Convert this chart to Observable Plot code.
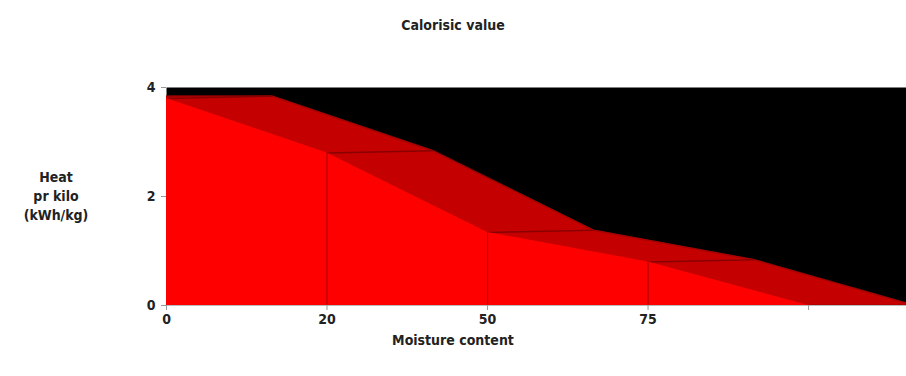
<!DOCTYPE html>
<html>
<head>
<meta charset="utf-8">
<script src="https://cdn.jsdelivr.net/npm/d3@7"></script>
<script src="https://cdn.jsdelivr.net/npm/@observablehq/plot@0.6"></script>
<style>
  html, body { margin: 0; padding: 0; background: #fff; }
  #wrap { position: relative; width: 906px; height: 376px; overflow: hidden;
          font-family: "Liberation Sans Narrow", "DejaVu Sans Condensed", "Liberation Sans", sans-serif; font-weight: bold; color: #222; }
  #wrap svg { position: absolute; left: 0; top: 0; }
  .lbl { position: absolute; text-align: center; }
  #title { left: 0; width: 906px; top: 17px; font-size: 14px; }
  #ylab { left: 10px; width: 92px; top: 168px; font-size: 14px; line-height: 19px; }
  #xlab { left: 0; width: 906px; top: 332px; font-size: 14px; }
</style>
</head>
<body>
<div id="wrap">
  <div class="lbl" id="title">Calorisic value</div>
  <div class="lbl" id="ylab">Heat<br>pr kilo<br>(kWh/kg)</div>
  <div class="lbl" id="xlab">Moisture content</div>
</div>
<script>
const categories = ["0", "20", "50", "75", ""];
const heat = [3.8, 2.8, 1.34, 0.8, 0];
const yTicks = [0, 2, 4];
const depthX = 0.66;   // 3D depth offset in category units
const depthY = 0.04;   // 3D depth offset in value units

const front = categories.map((c, i) => ({i, v: heat[i]}));
const back = [{i: 0, v: heat[0] + depthY}].concat(
  categories.map((c, i) => ({i: i + depthX, v: heat[i] + (heat[i] > 0 ? depthY : 0)}))
);
const edges = categories.map((c, i) => ({x1: i, x2: i + depthX, y1: heat[i], y2: heat[i] + (heat[i] > 0 ? depthY : 0)}));
const inner = front.slice(1, -1);

const chart = Plot.plot({
  width: 906,
  height: 376,
  marginTop: 87,
  marginBottom: 71,
  marginLeft: 166,
  marginRight: 0,
  style: {background: "transparent", fontFamily: "'Liberation Sans Narrow', 'DejaVu Sans Condensed', sans-serif", fontWeight: "bold", fontSize: "14px", color: "#222"},
  x: {domain: [0, 4.61], label: null},
  y: {domain: [0, 4], label: null},
  marks: [
    Plot.frame({fill: "black", stroke: null}),
    Plot.areaY(back, {x: "i", y: "v", fill: "#c40000", clip: true}),
    Plot.line(back, {x: "i", y: "v", stroke: "#a80000", strokeWidth: 1.5, clip: true}),
    Plot.link(edges, {x1: "x1", x2: "x2", y1: "y1", y2: "y2", stroke: "#8a0000", strokeWidth: 1.5, clip: true}),
    Plot.areaY(front, {x: "i", y: "v", fill: "#ff0000"}),
    Plot.ruleX(inner, {x: "i", y1: 0, y2: "v", stroke: "#b00000", strokeWidth: 1.2}),
    Plot.ruleY([0], {stroke: "#bbb", strokeWidth: 1}),
    Plot.axisX({ticks: d3.range(categories.length), tickFormat: i => categories[i], tickSize: 5, tickPadding: 4, stroke: "#999", fontWeight: "bold", fontSize: 14}),
    Plot.axisY({ticks: yTicks, tickFormat: d3.format("d"), tickSize: 5, tickPadding: 6, stroke: "#999", fontWeight: "bold", fontSize: 14})
  ]
});
document.getElementById("wrap").prepend(chart);
</script>
</body>
</html>
